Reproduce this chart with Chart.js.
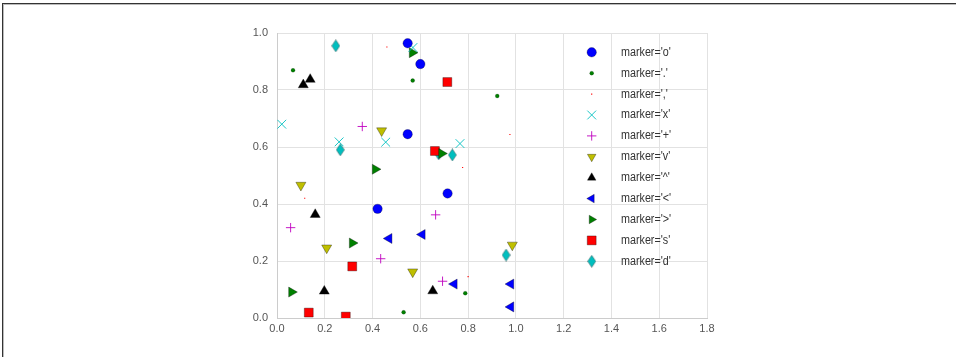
<!DOCTYPE html>
<html><head><meta charset="utf-8">
<script src="https://cdn.jsdelivr.net/npm/chart.js@4.4.1/dist/chart.umd.min.js"></script>
<style>
html,body{margin:0;padding:0;background:#fff;}
#wrap{position:relative;width:956px;height:357px;overflow:hidden;}
#frame{position:absolute;left:2px;top:3px;right:-5px;bottom:-5px;border-left:1px solid #333;border-top:1px solid #333;pointer-events:none;}
#frame2{position:absolute;left:3px;top:4px;right:-5px;bottom:-5px;border-left:1px solid #bbb;border-top:1px solid #bbb;pointer-events:none;}
</style></head>
<body><div id="wrap"><canvas id="c" width="956" height="357"></canvas><div id="frame"></div><div id="frame2"></div></div>
<script>
// ---- data ----
const xTickValues = [0, 0.2, 0.4, 0.6, 0.8, 1.0, 1.2, 1.4, 1.6, 1.8];
const yTickValues = [0, 0.2, 0.4, 0.6, 0.8, 1.0];
const markerNames = ['o', '.', ',', 'x', '+', 'v', '^', '<', '>', 's', 'd'];

const circleX = [0.547, 0.600, 0.547, 0.714, 0.421];
const circleY = [0.964, 0.891, 0.645, 0.437, 0.383];
const pointX  = [0.067, 0.568, 0.922, 0.530, 0.788];
const pointY  = [0.869, 0.833, 0.779, 0.020, 0.087];
const pixelX  = [0.460, 0.975, 0.777, 0.116, 0.800];
const pixelY  = [0.951, 0.644, 0.528, 0.420, 0.145];
const xMarkX  = [0.020, 0.260, 0.455, 0.766, 0.569];
const xMarkY  = [0.680, 0.618, 0.617, 0.612, 0.949];
const plusX   = [0.357, 0.057, 0.664, 0.434, 0.693];
const plusY   = [0.672, 0.317, 0.362, 0.208, 0.129];
const triDownX = [0.438, 0.100, 0.208, 0.568, 0.985];
const triDownY = [0.657, 0.466, 0.246, 0.162, 0.256];
const triUpX  = [0.110, 0.139, 0.160, 0.198, 0.652];
const triUpY  = [0.818, 0.837, 0.363, 0.094, 0.095];
const triLeftX = [0.469, 0.608, 0.742, 0.979, 0.979];
const triLeftY = [0.279, 0.293, 0.119, 0.119, 0.039];
const triRightX = [0.566, 0.411, 0.689, 0.315, 0.061];
const triRightY = [0.931, 0.522, 0.577, 0.263, 0.091];
const squareX = [0.713, 0.661, 0.315, 0.133, 0.288];
const squareY = [0.828, 0.586, 0.181, 0.019, 0.005];
const diamondX = [0.246, 0.265, 0.677, 0.734, 0.959];
const diamondY = [0.955, 0.590, 0.576, 0.572, 0.221];

// ---- styling ----
const EDGE = 'rgba(0,0,0,0.55)';
function thinDiamond(fill) {
  const c = document.createElement('canvas');
  c.width = 9; c.height = 13;
  const g = c.getContext('2d');
  g.beginPath();
  g.moveTo(4.5, 0.5); g.lineTo(8.5, 6.5); g.lineTo(4.5, 12.5); g.lineTo(0.5, 6.5); g.closePath();
  g.fillStyle = fill; g.fill();
  g.lineWidth = 0.6; g.strokeStyle = EDGE; g.stroke();
  return c;
}
const zip = (xs, ys) => xs.map((x, i) => ({x: x, y: ys[i]}));
const seriesX = [circleX, pointX, pixelX, xMarkX, plusX, triDownX, triUpX, triLeftX, triRightX, squareX, diamondX];
const seriesY = [circleY, pointY, pixelY, xMarkY, plusY, triDownY, triUpY, triLeftY, triRightY, squareY, diamondY];
const styles = [
  {pointStyle: 'circle', radius: 4.7, bg: '#0000ff', bc: EDGE, bw: 0.5, rot: 0},
  {pointStyle: 'circle', radius: 2, bg: '#008000', bc: EDGE, bw: 0.3, rot: 0},
  {pointStyle: 'rect', radius: 0.8, bg: '#ff0000', bc: '#ff0000', bw: 0, rot: 0},
  {pointStyle: 'crossRot', radius: 6.2, bg: '#00bfbf', bc: '#00bfbf', bw: 0.9, rot: 0},
  {pointStyle: 'cross', radius: 4.7, bg: '#bf00bf', bc: '#bf00bf', bw: 0.9, rot: 0},
  {pointStyle: 'triangle', radius: 5.8, bg: '#bfbf00', bc: EDGE, bw: 0.6, rot: 180},
  {pointStyle: 'triangle', radius: 5.8, bg: '#000000', bc: EDGE, bw: 0.6, rot: 0},
  {pointStyle: 'triangle', radius: 5.8, bg: '#0000ff', bc: EDGE, bw: 0.6, rot: 270},
  {pointStyle: 'triangle', radius: 5.8, bg: '#008000', bc: EDGE, bw: 0.6, rot: 90},
  {pointStyle: 'rect', radius: 6.3, bg: '#ff0000', bc: EDGE, bw: 0.6, rot: 0},
  {pointStyle: thinDiamond('#00bfbf'), radius: 5, bg: '#00bfbf', bc: EDGE, bw: 0.5, rot: 0}
];
const datasets = markerNames.map((m, i) => ({
  label: "marker='" + m + "'",
  data: zip(seriesX[i], seriesY[i]),
  showLine: false,
  pointStyle: styles[i].pointStyle,
  pointRadius: styles[i].radius,
  pointHoverRadius: styles[i].radius,
  pointRotation: styles[i].rot,
  pointBackgroundColor: styles[i].bg,
  pointBorderColor: styles[i].bc,
  pointBorderWidth: styles[i].bw,
  backgroundColor: styles[i].bg,
  borderColor: styles[i].bc,
  clip: 0
}));

const FONT_FAMILY = "'Liberation Sans', Arial, sans-serif";

const legendPlugin = {
  id: 'insideLegend',
  afterDraw(chart) {
    const ctx = chart.ctx;
    const mx = 591.7, tx = 621, y0 = 52.3, dy = 20.9;
    ctx.save();
    chart.data.datasets.forEach((ds, i) => {
      const el = chart.getDatasetMeta(i).data[0];
      const o = el.options;
      const y = y0 + i * dy;
      ctx.strokeStyle = o.borderColor;
      ctx.lineWidth = o.borderWidth;
      ctx.fillStyle = o.backgroundColor;
      const r = typeof o.pointStyle === 'string' && o.pointStyle.indexOf('triangle') === 0 ? o.radius * 0.85 : o.radius;
      Chart.helpers.drawPoint(ctx, {pointStyle: o.pointStyle, rotation: o.rotation, radius: r, borderWidth: o.borderWidth}, mx, y);
      ctx.save();
      ctx.translate(tx, y);
      ctx.scale(0.86, 1);
      ctx.fillStyle = '#333333';
      ctx.font = "12.5px " + FONT_FAMILY;
      ctx.textAlign = 'left';
      ctx.textBaseline = 'middle';
      ctx.fillText(ds.label, 0, 0);
      ctx.restore();
    });
    ctx.restore();
  }
};

new Chart(document.getElementById('c'), {
  type: 'scatter',
  data: {datasets: datasets},
  plugins: [legendPlugin],
  options: {
    responsive: false,
    animation: false,
    events: [],
    layout: {padding: {top: 33, right: 249, bottom: 0, left: 0}},
    plugins: {legend: {display: false}, tooltip: {enabled: false}},
    scales: {
      x: {
        type: 'linear', min: 0, max: 1.8,
        afterBuildTicks: s => { s.ticks = xTickValues.map(v => ({value: v})); },
        afterFit: s => { s.height = 39; },
        ticks: {callback: v => Number(v).toFixed(1), color: '#555555', padding: 4, maxRotation: 0, autoSkip: false,
                font: {family: FONT_FAMILY, size: 11}},
        grid: {color: '#e2e2e2', drawTicks: false, lineWidth: 1},
        border: {color: '#cccccc', width: 1}
      },
      y: {
        type: 'linear', min: 0, max: 1.0,
        afterBuildTicks: s => { s.ticks = yTickValues.map(v => ({value: v})); },
        afterFit: s => { s.width = 277; },
        ticks: {callback: v => Number(v).toFixed(1), color: '#555555', padding: 9, autoSkip: false,
                font: {family: FONT_FAMILY, size: 11}},
        grid: {color: '#e2e2e2', drawTicks: false, lineWidth: 1},
        border: {color: '#cccccc', width: 1}
      }
    }
  }
});
</script>
</body></html>
